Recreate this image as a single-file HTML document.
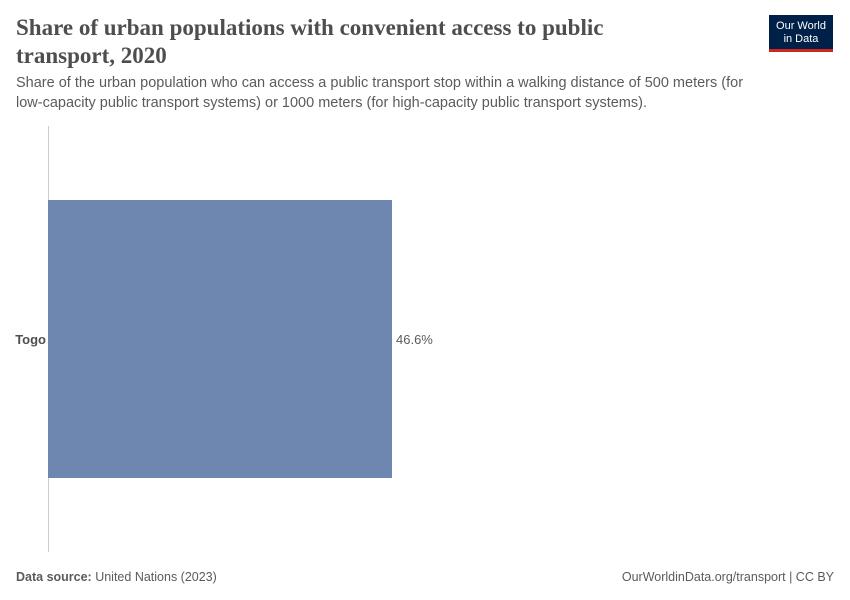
<!DOCTYPE html>
<html><head><meta charset="utf-8"><style>
body{margin:0;width:850px;height:600px;background:#fff;font-family:"Liberation Sans",sans-serif;position:relative;overflow:hidden}
.t{position:absolute;left:16px;top:14px;font-family:"Liberation Serif",serif;font-size:23px;font-weight:bold;color:#4e4e4e;line-height:28px;width:720px;white-space:nowrap}
.s{position:absolute;left:16px;top:73px;font-size:14.5px;color:#5b5b5b;line-height:20px;white-space:nowrap}
.logo{position:absolute;left:769px;top:15px;width:64px;height:37px;background:#002147;border-bottom:3px solid #ce261e;color:#fff;font-size:11px;text-align:center;line-height:13px;padding-top:5px;box-sizing:border-box}
.f{position:absolute;top:570px;font-size:12.5px;color:#5b5b5b}
</style></head><body>
<div class="t">Share of urban populations with convenient access to public<br>transport, 2020</div>
<div class="s">Share of the urban population who can access a public transport stop within a walking distance of 500 meters (for<br>low-capacity public transport systems) or 1000 meters (for high-capacity public transport systems).</div>
<div class="logo">Our World<br>in Data</div>
<svg id="c" width="850" height="600" style="position:absolute;left:0;top:0"></svg>
<div class="f" style="left:16px"><b>Data source:</b> United Nations (2023)</div>
<div class="f" style="right:16px">OurWorldinData.org/transport | CC BY</div>
<script>
const categories=["Togo"];
const values=[46.6];
const labels=["46.6%"];
const svg=document.getElementById('c');
const x0=48,xScale=v=>x0+v*(392-48)/46.6;
const top0=200,bandH=278;
const NS="http://www.w3.org/2000/svg";
const ax=document.createElementNS(NS,'line');
ax.setAttribute('x1',48.5);ax.setAttribute('x2',48.5);ax.setAttribute('y1',126);ax.setAttribute('y2',552);ax.setAttribute('stroke','#ccc');


svg.appendChild(ax);
categories.forEach((c,i)=>{
const y=top0+i*bandH;
const r=document.createElementNS(NS,'rect');
r.setAttribute('x',x0);r.setAttribute('y',y);r.setAttribute('width',xScale(values[i])-x0);r.setAttribute('height',bandH);r.setAttribute('fill','#6d87b0');


svg.appendChild(r);
const l=document.createElementNS(NS,'text');
l.setAttribute('x',46);l.setAttribute('y',y+bandH/2+5);l.setAttribute('text-anchor','end');l.setAttribute('font-size','13');l.setAttribute('font-weight','bold');l.setAttribute('fill','#4e4e4e');l.textContent=c;


svg.appendChild(l);
const v=document.createElementNS(NS,'text');
v.setAttribute('x',xScale(values[i])+4);v.setAttribute('y',y+bandH/2+5);v.setAttribute('font-size','13');v.setAttribute('fill','#5b5b5b');v.textContent=labels[i];


svg.appendChild(v);
});
</script>
</body></html>
